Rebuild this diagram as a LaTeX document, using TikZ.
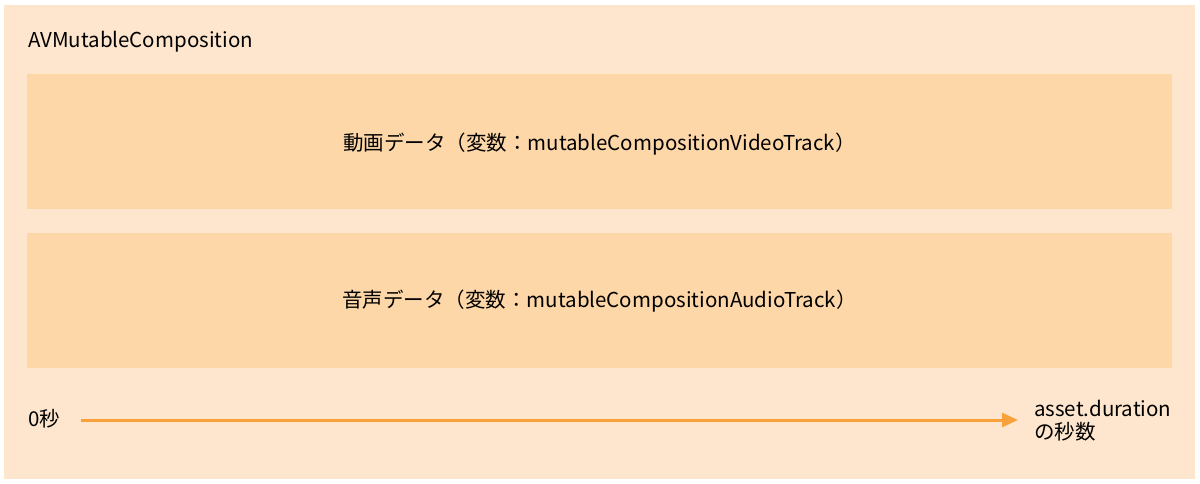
\documentclass[tikz,border=0pt]{standalone}
\usepackage{fontspec}
\setmainfont{Noto Sans CJK JP}
\usetikzlibrary{arrows.meta,positioning}

\definecolor{outerbg}{HTML}{FDE6CD}
\definecolor{trackbg}{HTML}{FED7A8}
\definecolor{timeline}{HTML}{F9A23C}

\begin{document}
\begin{tikzpicture}[x=1pt, y=-1pt, >=Stealth,
  track/.style={fill=trackbg, draw=none, minimum width=1145pt, minimum height=135pt},
  lbl/.style={font=\fontsize{20.5}{23}\selectfont, inner sep=0pt}]

  \useasboundingbox (0,0) rectangle (1200,484);

  % outer composition area
  \fill[outerbg] (4,5) rectangle (1195,479);
  \node[lbl, anchor=west] (comp) at (28,42) {AVMutableComposition};

  % the two tracks
  \node[track] (video) at (599.5,141.5) {};
  \node[lbl] (videotxt) at ([yshift=-3pt]video.center) {動画データ（変数：mutableCompositionVideoTrack）};
  \node[track] (audio) at (599.5,300) {};
  \node[lbl] (audiotxt) at ([yshift=-1.5pt]audio.center) {音声データ（変数：mutableCompositionAudioTrack）};

  % time axis
  \node[lbl, anchor=west] (start) at (28,419) {0秒};
  \node[lbl, anchor=west, align=left] (end) at (1034,421) {asset.duration\\の秒数};
  \coordinate (tail) at (81,420);
  \coordinate (head) at (1018,420);
  \draw[timeline, line width=3pt, arrows={-Triangle[length=16pt, width=14pt]}] (tail) -- (head);

\end{tikzpicture}
\end{document}
